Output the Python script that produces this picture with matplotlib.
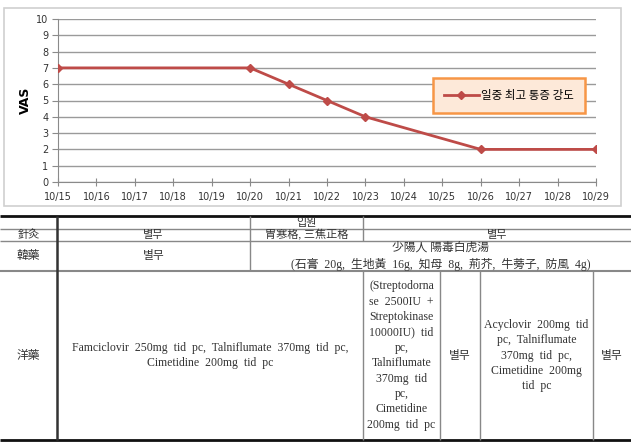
import matplotlib
matplotlib.use("Agg")
import matplotlib.pyplot as plt
from matplotlib.patches import Rectangle

# 날짜 / VAS
dates = ['10/15', '10/16', '10/17', '10/18', '10/19', '10/20', '10/21',
         '10/22', '10/23', '10/24', '10/25', '10/26', '10/27', '10/28', '10/29']
vas_days = ['10/15', '10/20', '10/21', '10/22', '10/23', '10/26', '10/29']
vas = [7, 7, 6, 5, 4, 2, 2]
legend_label = '일중 최고 통증 강도'

# 표 내용
row_heads = ['針灸', '韓藥', '洋藥']
header_text = '입원'
acu = ['별무', '胃寒格, 三焦正格', '별무']
herb = ['별무', '少陽人 陽毒白虎湯\n(石膏  20g,  生地黃  16g,  知母  8g,  荊芥,  牛蒡子,  防風  4g)']
west = ['Famciclovir  250mg  tid  pc,  Talniflumate  370mg  tid  pc,\nCimetidine  200mg  tid  pc',
        '(Streptodorna\nse  2500IU  +\nStreptokinase\n10000IU)  tid\npc,\nTalniflumate\n370mg  tid\npc,\nCimetidine\n200mg  tid  pc',
        '별무',
        'Acyclovir  200mg  tid\npc,  Talniflumate\n370mg  tid  pc,\nCimetidine  200mg\ntid  pc',
        '별무']

W, H = 631, 442
fig = plt.figure(figsize=(W / 100, H / 100), dpi=100)

# 전체 좌표용 축 (픽셀 단위)
bg = fig.add_axes([0, 0, 1, 1])
bg.set_xlim(0, W)
bg.set_ylim(H, 0)
bg.axis('off')

# 차트 바깥 테두리
bg.add_patch(Rectangle((4, 8), 617, 198, fill=False, edgecolor='#d0d0d0', lw=1.2))

ax = fig.add_axes([58 / W, 1 - 182 / H, (596 - 58) / W, (182 - 19) / H])
xs = [dates.index(d) for d in vas_days]
ax.plot(xs, vas, color='#be4b48', lw=2, marker='D', ms=4.5, label=legend_label, zorder=3)
ax.set_xlim(0, len(dates) - 1)
ax.set_ylim(0, 10)
ax.set_yticks(range(11))
ax.set_xticks(range(len(dates)))
ax.set_xticklabels(dates)
ax.grid(axis='y', color='#9a9a9a', lw=1)
ax.set_axisbelow(True)
for s in ['top', 'right']:
    ax.spines[s].set_visible(False)
for s in ['left', 'bottom']:
    ax.spines[s].set_color('#8a8a8a')
ax.tick_params(axis='y', length=4, color='#8a8a8a', labelsize=7, labelcolor='#333333', pad=3)
ax.tick_params(axis='x', direction='inout', length=6, color='#8a8a8a', labelsize=7, labelcolor='#333333', pad=4)
ax.set_ylabel('VAS', fontsize=9, fontweight='bold')
ax.yaxis.set_label_coords((32 - 58) / 538, 0.5)

leg = ax.legend(loc='upper left', bbox_to_anchor=((433 - 58) / 538, (182 - 78) / 163),
                prop={'family': ['Noto Sans CJK KR', 'DejaVu Sans'], 'size': 8.3},
                frameon=True, fancybox=False, handlelength=3.0, borderpad=0.95,
                borderaxespad=0, handletextpad=0.2, markerscale=0.9)
fr = leg.get_frame()
fr.set_facecolor('#fde9d9')
fr.set_edgecolor('#f79646')
fr.set_linewidth(1.8)
fr.set_alpha(1)

# 표
fam = ['Liberation Serif', 'Noto Sans CJK KR']
tc = '#333333'
gray = '#888888'

def hline(y, x0=0, x1=W, lw=1, c=gray):
    bg.plot([x0, x1], [y, y], color=c, lw=lw, solid_capstyle='butt')

def vline(x, y0, y1, lw=1, c=gray):
    bg.plot([x, x], [y0, y1], color=c, lw=lw, solid_capstyle='butt')

def cell(x0, x1, y0, y1, s, fs=8.5, ls=1.25, dy=0):
    bg.text((x0 + x1) / 2, (y0 + y1) / 2 + dy, s, ha='center', va='center',
            family=fam, fontsize=fs, color=tc, linespacing=ls)

y_top, y1, y2, y3, y_bot = 216, 229, 241, 271, 440
hline(y_top, lw=2, c='#111111')
hline(y1)
hline(y2)
hline(y3, lw=1.5)
hline(y_bot, lw=2, c='#111111')

vline(57, y_top, y_bot, lw=1.8, c='#333333')
vline(250, y_top, y3)
vline(363, y_top, y2)
for x in [363, 440, 480, 593]:
    vline(x, y3, y_bot)

cell(250, 363, y_top, y1, header_text, fs=8, dy=0.5)
cell(0, 57, y1, y2, row_heads[0], fs=8)
cell(57, 250, y1, y2, acu[0], fs=8)
cell(250, 363, y1, y2, acu[1], fs=8)
cell(363, W, y1, y2, acu[2], fs=8)
cell(0, 57, y2, y3, row_heads[1])
cell(57, 250, y2, y3, herb[0])
cell(250, W, y2, y3, herb[1], ls=1.45)
cell(0, 57, y3, y_bot, row_heads[2])
bounds = [57, 363, 440, 480, 593, W]
for i, s in enumerate(west):
    cell(bounds[i], bounds[i + 1], y3, y_bot, s, ls=1.38)

fig.savefig('out.png', dpi=100)
